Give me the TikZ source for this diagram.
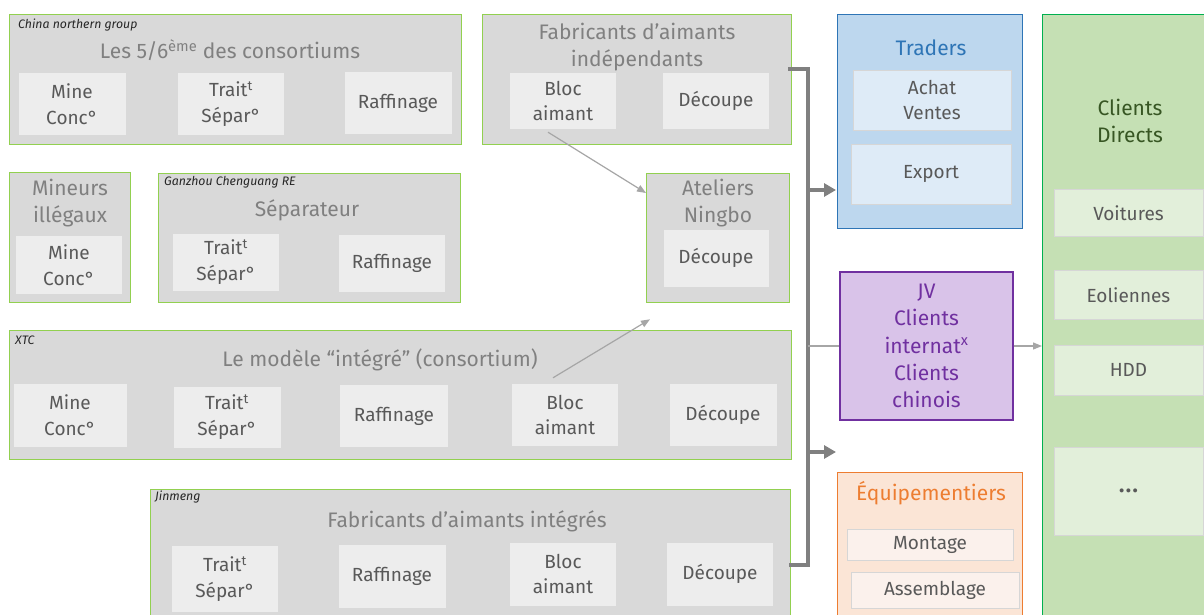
\documentclass[tikz,border=0pt]{standalone}
\usepackage{fontspec}
\setmainfont{Fira Sans}
\usetikzlibrary{arrows.meta}

\definecolor{grpfill}{HTML}{D9D9D9}
\definecolor{grpline}{HTML}{92D050}
\definecolor{cellfill}{HTML}{EDEDED}
\definecolor{celltext}{HTML}{595959}
\definecolor{ttlgray}{HTML}{808080}
\definecolor{busgray}{HTML}{808080}
\definecolor{linkgray}{HTML}{A6A6A6}
\definecolor{trdfill}{HTML}{BDD7EE}
\definecolor{trdline}{HTML}{2E75B6}
\definecolor{trdcell}{HTML}{DEEBF7}
\definecolor{jvfill}{HTML}{D9C3E9}
\definecolor{jvline}{HTML}{7030A0}
\definecolor{eqfill}{HTML}{FBE5D6}
\definecolor{eqline}{HTML}{ED7D31}
\definecolor{eqcell}{HTML}{FBF1EC}
\definecolor{cdfill}{HTML}{C5E0B4}
\definecolor{cdline}{HTML}{00B050}
\definecolor{cdtext}{HTML}{375623}
\definecolor{cdcell}{HTML}{E2EFDA}
\definecolor{cellline}{HTML}{D6D6D6}

\begin{document}
\begin{tikzpicture}[x=1pt, y=-1pt,
  grp/.style={draw=grpline, fill=grpfill, line width=1.3pt, inner sep=0pt, anchor=north west},
  cell/.style={fill=cellfill, text=celltext, align=center, inner sep=0pt,
    minimum width=107pt, minimum height=62pt, font=\fontsize{19}{25.5}\selectfont},
  ttl/.style={text=ttlgray, align=center, inner sep=0pt, font=\fontsize{21}{27.5}\selectfont},
  tag/.style={anchor=west, inner sep=0pt, text=black!85, font=\fontsize{12.3}{14}\selectfont\itshape},
  bus/.style={draw=busgray, line width=3.6pt},
  busarrow/.style={bus, -{Triangle[length=12pt,width=13pt]}},
  link/.style={draw=linkgray, line width=1.2pt},
  linkarrow/.style={link, -{Triangle[length=9pt,width=7pt]}}]
  \path[use as bounding box, clip] (0,0) rectangle (1204,615);
  \fill[white] (0,0) rectangle (1204,615);

  % China northern group
  \node[grp, minimum width=452pt, minimum height=130pt] (cng) at (9,14) {};
  \node[tag] (cngtag) at (18,25) {China northern group};
  \node[ttl] (cngttl) at (230,50) {Les 5/6\textsuperscript{ème} des consortiums};
  \node[cell] (cngmine) at (72,104) {Mine\\Conc°};
  \node[cell, minimum width=106pt] (cngsep) at (231,104) {Trait\textsuperscript{t}\\Sépar°};
  \node[cell] (cngraf) at (398,103) {Raffinage};

  % fabricants independants
  \node[grp, minimum width=309pt, minimum height=130pt] (fabind) at (482,14) {};
  \node[ttl] (fabttl) at (637,47) {Fabricants d’aimants\\indépendants};
  \node[cell, minimum width=106pt, minimum height=56pt] (fbloc) at (563,101) {Bloc\\aimant};
  \node[cell, minimum width=106pt, minimum height=56pt] (fdec) at (716,101) {Découpe};

  % mineurs illegaux
  \node[grp, minimum width=121pt, minimum height=130pt] (illeg) at (9,172) {};
  \node[ttl] (illttl) at (70,203) {Mineurs\\illégaux};
  \node[cell, minimum width=106pt, minimum height=58pt] (illmine) at (69,265) {Mine\\Conc°};

  % Ganzhou
  \node[grp, minimum width=302pt, minimum height=129pt] (gcre) at (158,173) {};
  \node[tag] (gcretag) at (164,182) {Ganzhou Chenguang RE};
  \node[ttl] (gcrettl) at (307,210) {Séparateur};
  \node[cell, minimum width=106pt, minimum height=57pt] (gcresep) at (226,262) {Trait\textsuperscript{t}\\Sépar°};
  \node[cell, minimum width=106pt, minimum height=57pt] (gcreraf) at (392,263) {Raffinage};

  % Ningbo
  \node[grp, minimum width=143pt, minimum height=129pt] (ningbo) at (646,173) {};
  \node[ttl] (ningttl) at (718,203) {Ateliers\\Ningbo};
  \node[cell, minimum width=105pt, minimum height=57pt] (ningdec) at (716,258) {Découpe};

  % XTC
  \node[grp, minimum width=782pt, minimum height=129pt] (xtc) at (9,330) {};
  \node[tag] (xtctag) at (15,340) {XTC};
  \node[ttl] (xtcttl) at (380,360) {Le modèle “intégré” (consortium)};
  \node[cell, minimum width=113pt, minimum height=63pt] (xmine) at (70,415) {Mine\\Conc°};
  \node[cell, minimum height=61pt] (xsep) at (227,417) {Trait\textsuperscript{t}\\Sépar°};
  \node[cell, minimum width=108pt] (xraf) at (394,416) {Raffinage};
  \node[cell, minimum width=106pt] (xbloc) at (565,415) {Bloc\\aimant};
  \node[cell] (xdec) at (723,415) {Découpe};

  % Jinmeng
  \node[grp, minimum width=640pt, minimum height=140pt] (jin) at (150,489) {};
  \node[tag] (jintag) at (155,497) {Jinmeng};
  \node[ttl] (jinttl) at (467,521) {Fabricants d’aimants intégrés};
  \node[cell, minimum width=106pt, minimum height=66pt] (jsep) at (225,579) {Trait\textsuperscript{t}\\Sépar°};
  \node[cell, minimum height=63pt] (jraf) at (392,576) {Raffinage};
  \node[cell, minimum width=106pt, minimum height=63pt] (jbloc) at (563,574) {Bloc\\aimant};
  \node[cell, minimum width=106pt, minimum height=63pt] (jdec) at (720,574) {Découpe};

  % Traders
  \node[grp, draw=trdline, fill=trdfill, line width=1pt, minimum width=185pt, minimum height=214pt] (trd) at (837,14) {};
  \node[ttl, text=trdline] (trdttl) at (931,48) {Traders};
  \node[cell, fill=trdcell, draw=cellline, minimum width=158pt, minimum height=60pt] (achat) at (932,100) {Achat\\Ventes};
  \node[cell, fill=trdcell, draw=cellline, minimum width=160pt, minimum height=60pt] (export) at (931,174) {Export};

  % JV
  \node[draw=jvline, fill=jvfill, line width=1.2pt, minimum width=173pt, minimum height=148pt,
    text=jvline, align=center, font=\fontsize{21}{27.3}\selectfont] (jv) at (926.5,346)
    {JV\\Clients\\internat\textsuperscript{x}\\Clients\\chinois};

  % Equipementiers
  \node[grp, draw=eqline, fill=eqfill, line width=1pt, minimum width=185pt, minimum height=160pt] (equip) at (837,472) {};
  \node[ttl, text=eqline] (eqttl) at (931,493) {Équipementiers};
  \node[cell, fill=eqcell, draw=cellline, minimum width=166pt, minimum height=31pt] (montage) at (930,545) {Montage};
  \node[cell, fill=eqcell, draw=cellline, minimum width=168pt, minimum height=36pt] (assemb) at (935,590) {Assemblage};

  % Clients directs
  \node[grp, draw=cdline, fill=cdfill, line width=1.2pt, minimum width=180pt, minimum height=620pt] (cdir) at (1042,14) {};
  \node[ttl, text=cdtext] (cdttl) at (1130,121) {Clients\\Directs};
  \node[cell, fill=cdcell, draw=cellline, minimum width=149pt, minimum height=47pt] (voit) at (1128.5,213) {Voitures};
  \node[cell, fill=cdcell, draw=cellline, minimum width=149pt, minimum height=49pt] (eol) at (1128.5,295) {Eoliennes};
  \node[cell, fill=cdcell, draw=cellline, minimum width=149pt, minimum height=50pt] (hdd) at (1128.5,370) {HDD};
  \node[cell, fill=cdcell, draw=cellline, minimum width=149pt, minimum height=88pt] (etc) at (1128.5,491)
    {\raisebox{0pt}{\fontsize{22}{22}\selectfont\textbf{.\kern1.5pt.\kern1.5pt.}}};

  % flux
  \coordinate (busN) at (808,69);
  \coordinate (busS) at (808,565);
  \coordinate (busT) at (808,190);
  \coordinate (busE) at (808,452);
  \coordinate (eqin) at (836,452);
  \draw[bus] ([xshift=-4pt]fabind.east |- busN) -- (busN) -- (busS) -- ([xshift=-2pt]jin.east |- busS);
  \draw[busarrow] (busT) -- ([xshift=-1pt]trd.west |- busT);
  \draw[busarrow] (busE) -- (eqin);
  \draw[link] (jv.west -| busN) -- (jv.west);
  \draw[linkarrow] (jv.east) -- (cdir.west |- jv.east);
  \draw[linkarrow] ([xshift=-15pt,yshift=-3pt]fbloc.south) -- ([yshift=-20pt]ningbo.north west);
  \draw[linkarrow] ([xshift=-12pt,yshift=6pt]xbloc.north) -- ([xshift=4pt,yshift=-16pt]ningbo.south west);
\end{tikzpicture}
\end{document}
